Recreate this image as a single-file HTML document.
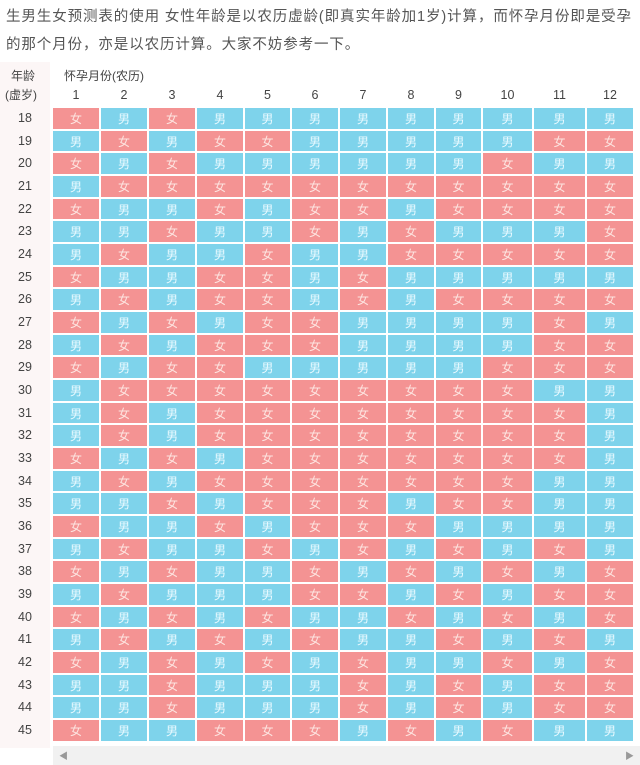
<!DOCTYPE html>
<html><head><meta charset="utf-8"><style>
*{margin:0;padding:0;box-sizing:border-box}
body{width:640px;height:765px;background:#fff;position:relative;overflow:hidden;font-family:"Liberation Sans","Noto Sans CJK SC",sans-serif;color:#555}
.t{position:absolute;left:6px;font-size:14.5px;letter-spacing:0.9px;color:#555;white-space:nowrap}
.lab{position:absolute;font-size:12px;color:#444}
#side{position:absolute;left:0;top:62px;width:50px;height:686px;background:#fcf6f6}
#g{position:absolute;left:53px;top:108px;display:grid;grid-template-columns:48px 48px 48px 48px 47px 48px 48px 48px 47px 51px 53px 48px;grid-auto-rows:22.68px}
#g i{font-style:normal;display:flex;align-items:center;justify-content:center;margin:0 2px 2px 0;font-size:12px;color:#fff}
#g i.f{background:#f49393;color:#fde4e0}
#g i.m{background:#7ed3eb;color:#eafaff}
#rows{position:absolute;left:0;top:108px;width:50px}
#rows div{height:22.68px;line-height:20px;text-align:center;font-size:12.5px;color:#444}
#nums{position:absolute;left:53px;top:88px;display:grid;grid-template-columns:48px 48px 48px 48px 47px 48px 48px 48px 47px 51px 53px 48px}
#nums div{text-align:center;font-size:12.5px;color:#444;padding-right:2px}
#sb{position:absolute;left:53px;top:746px;width:587px;height:19px;background:#f1f1f1}
</style></head><body>
<div class="t" style="top:5px">生男生女预测表的使用 女性年龄是以农历虚龄(即真实年龄加1岁)计算，而怀孕月份即是受孕</div>
<div class="t" style="top:33px">的那个月份，亦是以农历计算。大家不妨参考一下。</div>
<div id="side"></div>
<div class="lab" style="left:11px;top:67px">年龄</div>
<div class="lab" style="left:5px;top:86px">(虚岁)</div>
<div class="lab" style="left:64px;top:67px">怀孕月份(农历)</div>
<div id="nums"><div>1</div><div>2</div><div>3</div><div>4</div><div>5</div><div>6</div><div>7</div><div>8</div><div>9</div><div>10</div><div>11</div><div>12</div></div>
<div id="rows"><div>18</div><div>19</div><div>20</div><div>21</div><div>22</div><div>23</div><div>24</div><div>25</div><div>26</div><div>27</div><div>28</div><div>29</div><div>30</div><div>31</div><div>32</div><div>33</div><div>34</div><div>35</div><div>36</div><div>37</div><div>38</div><div>39</div><div>40</div><div>41</div><div>42</div><div>43</div><div>44</div><div>45</div></div>
<div id="g">
<i class=f>女</i><i class=m>男</i><i class=f>女</i><i class=m>男</i><i class=m>男</i><i class=m>男</i><i class=m>男</i><i class=m>男</i><i class=m>男</i><i class=m>男</i><i class=m>男</i><i class=m>男</i>
<i class=m>男</i><i class=f>女</i><i class=m>男</i><i class=f>女</i><i class=f>女</i><i class=m>男</i><i class=m>男</i><i class=m>男</i><i class=m>男</i><i class=m>男</i><i class=f>女</i><i class=f>女</i>
<i class=f>女</i><i class=m>男</i><i class=f>女</i><i class=m>男</i><i class=m>男</i><i class=m>男</i><i class=m>男</i><i class=m>男</i><i class=m>男</i><i class=f>女</i><i class=m>男</i><i class=m>男</i>
<i class=m>男</i><i class=f>女</i><i class=f>女</i><i class=f>女</i><i class=f>女</i><i class=f>女</i><i class=f>女</i><i class=f>女</i><i class=f>女</i><i class=f>女</i><i class=f>女</i><i class=f>女</i>
<i class=f>女</i><i class=m>男</i><i class=m>男</i><i class=f>女</i><i class=m>男</i><i class=f>女</i><i class=f>女</i><i class=m>男</i><i class=f>女</i><i class=f>女</i><i class=f>女</i><i class=f>女</i>
<i class=m>男</i><i class=m>男</i><i class=f>女</i><i class=m>男</i><i class=m>男</i><i class=f>女</i><i class=m>男</i><i class=f>女</i><i class=m>男</i><i class=m>男</i><i class=m>男</i><i class=f>女</i>
<i class=m>男</i><i class=f>女</i><i class=m>男</i><i class=m>男</i><i class=f>女</i><i class=m>男</i><i class=m>男</i><i class=f>女</i><i class=f>女</i><i class=f>女</i><i class=f>女</i><i class=f>女</i>
<i class=f>女</i><i class=m>男</i><i class=m>男</i><i class=f>女</i><i class=f>女</i><i class=m>男</i><i class=f>女</i><i class=m>男</i><i class=m>男</i><i class=m>男</i><i class=m>男</i><i class=m>男</i>
<i class=m>男</i><i class=f>女</i><i class=m>男</i><i class=f>女</i><i class=f>女</i><i class=m>男</i><i class=f>女</i><i class=m>男</i><i class=f>女</i><i class=f>女</i><i class=f>女</i><i class=f>女</i>
<i class=f>女</i><i class=m>男</i><i class=f>女</i><i class=m>男</i><i class=f>女</i><i class=f>女</i><i class=m>男</i><i class=m>男</i><i class=m>男</i><i class=m>男</i><i class=f>女</i><i class=m>男</i>
<i class=m>男</i><i class=f>女</i><i class=m>男</i><i class=f>女</i><i class=f>女</i><i class=f>女</i><i class=m>男</i><i class=m>男</i><i class=m>男</i><i class=m>男</i><i class=f>女</i><i class=f>女</i>
<i class=f>女</i><i class=m>男</i><i class=f>女</i><i class=f>女</i><i class=m>男</i><i class=m>男</i><i class=m>男</i><i class=m>男</i><i class=m>男</i><i class=f>女</i><i class=f>女</i><i class=f>女</i>
<i class=m>男</i><i class=f>女</i><i class=f>女</i><i class=f>女</i><i class=f>女</i><i class=f>女</i><i class=f>女</i><i class=f>女</i><i class=f>女</i><i class=f>女</i><i class=m>男</i><i class=m>男</i>
<i class=m>男</i><i class=f>女</i><i class=m>男</i><i class=f>女</i><i class=f>女</i><i class=f>女</i><i class=f>女</i><i class=f>女</i><i class=f>女</i><i class=f>女</i><i class=f>女</i><i class=m>男</i>
<i class=m>男</i><i class=f>女</i><i class=m>男</i><i class=f>女</i><i class=f>女</i><i class=f>女</i><i class=f>女</i><i class=f>女</i><i class=f>女</i><i class=f>女</i><i class=f>女</i><i class=m>男</i>
<i class=f>女</i><i class=m>男</i><i class=f>女</i><i class=m>男</i><i class=f>女</i><i class=f>女</i><i class=f>女</i><i class=f>女</i><i class=f>女</i><i class=f>女</i><i class=f>女</i><i class=m>男</i>
<i class=m>男</i><i class=f>女</i><i class=m>男</i><i class=f>女</i><i class=f>女</i><i class=f>女</i><i class=f>女</i><i class=f>女</i><i class=f>女</i><i class=f>女</i><i class=m>男</i><i class=m>男</i>
<i class=m>男</i><i class=m>男</i><i class=f>女</i><i class=m>男</i><i class=f>女</i><i class=f>女</i><i class=f>女</i><i class=m>男</i><i class=f>女</i><i class=f>女</i><i class=m>男</i><i class=m>男</i>
<i class=f>女</i><i class=m>男</i><i class=m>男</i><i class=f>女</i><i class=m>男</i><i class=f>女</i><i class=f>女</i><i class=f>女</i><i class=m>男</i><i class=m>男</i><i class=m>男</i><i class=m>男</i>
<i class=m>男</i><i class=f>女</i><i class=m>男</i><i class=m>男</i><i class=f>女</i><i class=m>男</i><i class=f>女</i><i class=m>男</i><i class=f>女</i><i class=m>男</i><i class=f>女</i><i class=m>男</i>
<i class=f>女</i><i class=m>男</i><i class=f>女</i><i class=m>男</i><i class=m>男</i><i class=f>女</i><i class=m>男</i><i class=f>女</i><i class=m>男</i><i class=f>女</i><i class=m>男</i><i class=f>女</i>
<i class=m>男</i><i class=f>女</i><i class=m>男</i><i class=m>男</i><i class=m>男</i><i class=f>女</i><i class=f>女</i><i class=m>男</i><i class=f>女</i><i class=m>男</i><i class=f>女</i><i class=f>女</i>
<i class=f>女</i><i class=m>男</i><i class=f>女</i><i class=m>男</i><i class=f>女</i><i class=m>男</i><i class=m>男</i><i class=f>女</i><i class=m>男</i><i class=f>女</i><i class=m>男</i><i class=f>女</i>
<i class=m>男</i><i class=f>女</i><i class=m>男</i><i class=f>女</i><i class=m>男</i><i class=f>女</i><i class=m>男</i><i class=m>男</i><i class=f>女</i><i class=m>男</i><i class=f>女</i><i class=m>男</i>
<i class=f>女</i><i class=m>男</i><i class=f>女</i><i class=m>男</i><i class=f>女</i><i class=m>男</i><i class=f>女</i><i class=m>男</i><i class=m>男</i><i class=f>女</i><i class=m>男</i><i class=f>女</i>
<i class=m>男</i><i class=m>男</i><i class=f>女</i><i class=m>男</i><i class=m>男</i><i class=m>男</i><i class=f>女</i><i class=m>男</i><i class=f>女</i><i class=m>男</i><i class=f>女</i><i class=f>女</i>
<i class=m>男</i><i class=m>男</i><i class=f>女</i><i class=m>男</i><i class=m>男</i><i class=m>男</i><i class=f>女</i><i class=m>男</i><i class=f>女</i><i class=m>男</i><i class=f>女</i><i class=f>女</i>
<i class=f>女</i><i class=m>男</i><i class=m>男</i><i class=f>女</i><i class=f>女</i><i class=f>女</i><i class=m>男</i><i class=f>女</i><i class=m>男</i><i class=f>女</i><i class=m>男</i><i class=m>男</i>
</div>
<div id="sb"><span style="position:absolute;left:6px;top:3px;font-size:9px;color:#999">◀</span><span style="position:absolute;right:6px;top:3px;font-size:9px;color:#999">▶</span></div>
</body></html>
